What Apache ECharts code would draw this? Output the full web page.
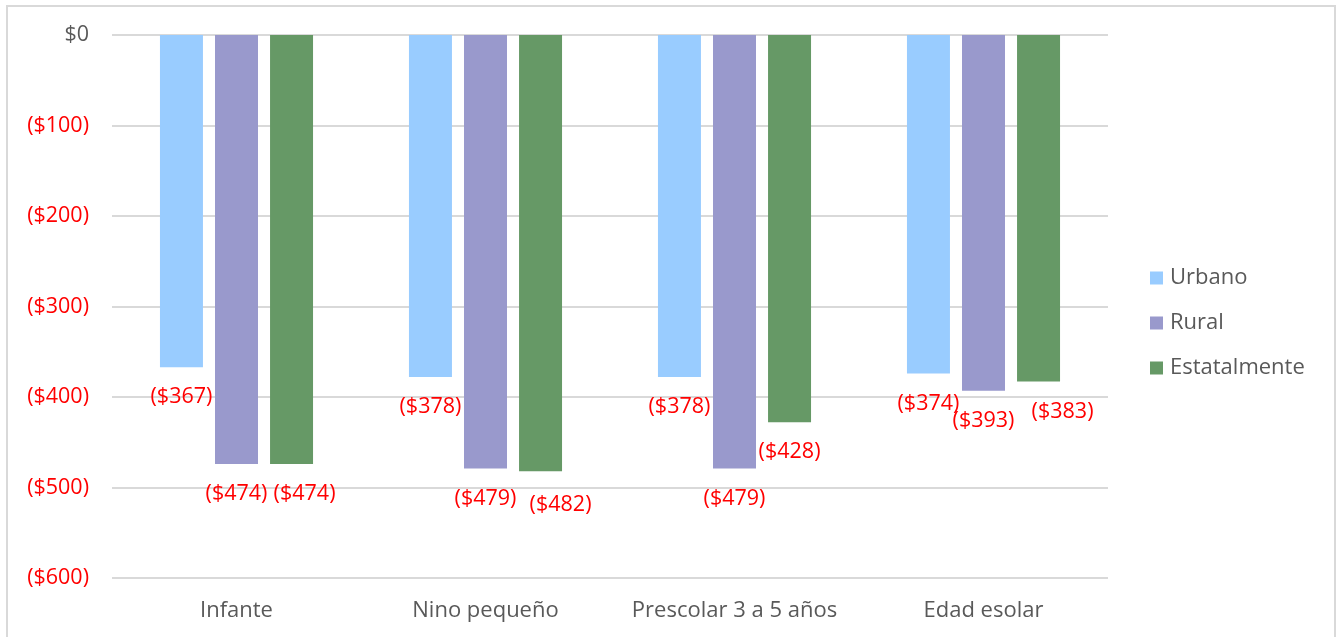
<!DOCTYPE html>
<html>
<head>
<meta charset="utf-8">
<script src="https://cdn.jsdelivr.net/npm/echarts@6/dist/echarts.min.js"></script>
<style>
  html, body { margin: 0; padding: 0; background: #ffffff; }
  #chart { width: 1343px; height: 637px; }
</style>
</head>
<body>
<div id="chart"></div>
<script>
// Monthly cost differences by age group and area
const categories = ['Infante', 'Nino pequeño', 'Prescolar 3 a 5 años', 'Edad esolar'];
const urbano = [-367, -378, -378, -374];
const rural = [-474, -479, -479, -393];
const estatalmente = [-474, -482, -428, -383];
const yTicks = { min: -600, max: 0, interval: 100 };

// Horizontal nudges that keep neighbouring value labels apart
const estatalLabelShift = [[13, 0], [20, 4], [0, 0], [24, 0]];

const FONT = '"Open Sans", Roboto, sans-serif';
const RED = '#ff0000';
const GRAY = '#595959';

function money(v) {
  const n = Math.round(Math.abs(v));
  return v < 0 ? '($' + n + ')' : '$' + n;
}

function labelStyle() {
  return {
    show: true,
    position: 'bottom',
    distance: 19,
    color: RED,
    fontFamily: FONT,
    fontSize: 21.5,
    formatter: p => money(p.value)
  };
}

function barSeries(name, data, color, shifts) {
  return {
    name: name,
    type: 'bar',
    data: data.map((v, i) => {
      if (!shifts) return v;
      return { value: v, label: { offset: shifts[i] } };
    }),
    barWidth: 43,
    barGap: '28%',
    itemStyle: { color: color },
    label: labelStyle(),
    emphasis: { disabled: true }
  };
}

const chart = echarts.init(document.getElementById('chart'), null, { renderer: 'canvas' });
chart.setOption({
  animation: false,
  backgroundColor: '#ffffff',
  graphic: [{
    type: 'rect',
    shape: { x: 7, y: 6, width: 1328, height: 640 },
    style: { fill: 'none', stroke: '#d9d9d9', lineWidth: 2 },
    silent: true
  }],
  grid: { left: 112, right: 235, top: 35, bottom: 59 },
  legend: {
    orient: 'vertical',
    left: 1150,
    top: 267,
    padding: 0,
    itemWidth: 13,
    itemHeight: 13,
    itemGap: 23,
    icon: 'rect',
    textStyle: { color: GRAY, fontFamily: FONT, fontSize: 22, padding: [0, 0, 0, 2] },
    data: ['Urbano', 'Rural', 'Estatalmente']
  },
  xAxis: {
    type: 'category',
    data: categories,
    position: 'bottom',
    axisLine: { show: false, onZero: false },
    axisTick: { show: false },
    axisLabel: { interval: 0, color: GRAY, fontFamily: FONT, fontSize: 22, margin: 22 }
  },
  yAxis: {
    type: 'value',
    min: yTicks.min,
    max: yTicks.max,
    interval: yTicks.interval,
    axisLine: { show: false },
    axisTick: { show: false },
    splitLine: { lineStyle: { color: '#d9d9d9', width: 2 } },
    axisLabel: {
      margin: 23,
      fontFamily: FONT,
      fontSize: 21.5,
      formatter: v => money(v),
      color: v => (v < 0 ? RED : GRAY)
    }
  },
  series: [
    barSeries('Urbano', urbano, '#99ccff'),
    barSeries('Rural', rural, '#9999cc'),
    barSeries('Estatalmente', estatalmente, '#669966', estatalLabelShift)
  ]
});
</script>
</body>
</html>
